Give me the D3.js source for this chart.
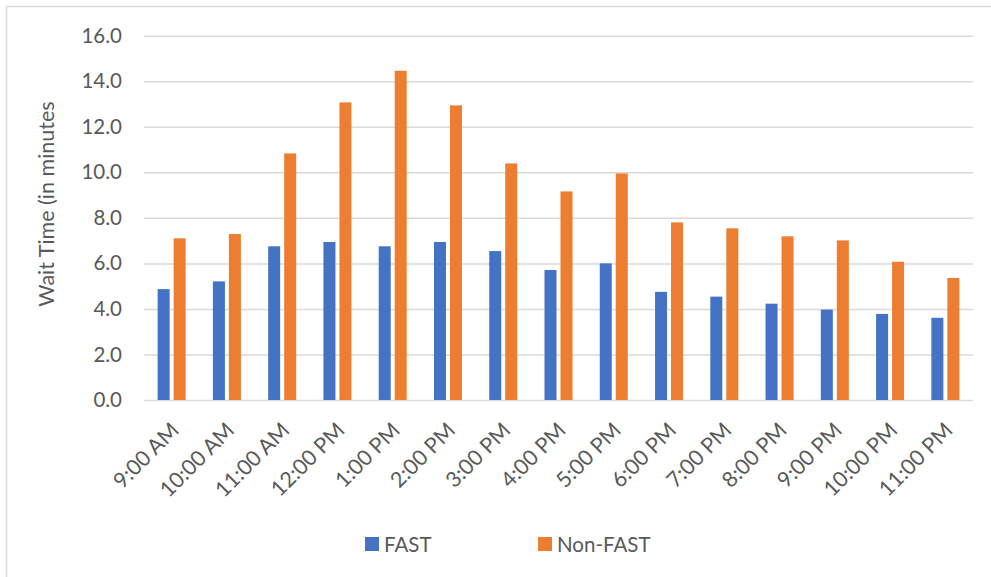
<!DOCTYPE html>
<html>
<head>
<meta charset="utf-8">
<script src="https://cdn.jsdelivr.net/npm/d3@7"></script>
<style>
  html, body { margin: 0; padding: 0; background: #fff; }
  svg { display: block; }
  text { font-family: Lato, "Open Sans", sans-serif; fill: #595959; }
</style>
</head>
<body>
<svg id="chart" width="991" height="577"></svg>
<script>
// Average wait time by hour of day
const hours = ["9:00 AM", "10:00 AM", "11:00 AM", "12:00 PM", "1:00 PM", "2:00 PM", "3:00 PM",
  "4:00 PM", "5:00 PM", "6:00 PM", "7:00 PM", "8:00 PM", "9:00 PM", "10:00 PM", "11:00 PM"];
const fastWait = [4.87, 5.21, 6.75, 6.94, 6.75, 6.94, 6.54, 5.71, 6.00, 4.75, 4.54, 4.23, 3.97, 3.78, 3.61];
const nonFastWait = [7.10, 7.29, 10.83, 13.07, 14.46, 12.94, 10.39, 9.16, 9.95, 7.80, 7.54, 7.19, 7.01, 6.07, 5.36];
const yTicks = [0, 2, 4, 6, 8, 10, 12, 14, 16];
const seriesNames = ["FAST", "Non-FAST"];
const seriesColors = ["#4472c4", "#ed7d31"];

const svg = d3.select("#chart");

// chart area frame
svg.append("rect")
  .attr("x", 6.5).attr("y", 6.5)
  .attr("width", 1000).attr("height", 600)
  .attr("fill", "none").attr("stroke", "#d9d9d9").attr("stroke-width", 1.5);

const plot = { left: 144, right: 973, top: 35.7, bottom: 400 };

const x = d3.scaleBand().domain(hours).range([plot.left, plot.right]).paddingInner(0).paddingOuter(0);
const y = d3.scaleLinear().domain([0, 16]).range([plot.bottom, plot.top]);

// horizontal gridlines with value labels
const yAxis = d3.axisLeft(y).tickValues(yTicks).tickFormat(d3.format(".1f"))
  .tickSize(-(plot.right - plot.left)).tickPadding(22);
const gy = svg.append("g").attr("transform", `translate(${plot.left},0)`).call(yAxis);
gy.select(".domain").remove();
gy.selectAll(".tick line").attr("stroke", "#d9d9d9").attr("stroke-width", 1.5);
gy.selectAll(".tick text").attr("font-size", 20.5).attr("fill", "#595959")
  .style("font-family", "Lato, sans-serif");

// bars
const barW = 12, gap = 4;
const series = [fastWait, nonFastWait];
series.forEach((vals, si) => {
  svg.append("g").selectAll("rect").data(vals).join("rect")
    .attr("x", (d, i) => x(hours[i]) + x.bandwidth() / 2 - barW - gap / 2 + si * (barW + gap))
    .attr("y", d => y(d))
    .attr("width", barW)
    .attr("height", d => y(0) - y(d))
    .attr("fill", seriesColors[si]);
});

// category labels, rotated
svg.append("g").selectAll("text").data(hours).join("text")
  .attr("transform", d => `translate(${x(d) + x.bandwidth() / 2 - 2},${plot.bottom + 21}) rotate(-45)`)
  .attr("text-anchor", "end")
  .attr("dy", "0.7em")
  .attr("font-size", 21.5)
  .text(d => d);

// axis title
svg.append("text")
  .attr("transform", `translate(54,204) rotate(-90)`)
  .attr("text-anchor", "middle")
  .attr("font-size", 21.5)
  .text("Wait Time (in minutes");

// legend
const legendX = [365, 538];
const lg = svg.append("g").selectAll("g").data(seriesNames).join("g")
  .attr("transform", (d, i) => `translate(${legendX[i]},537)`);
lg.append("rect").attr("width", 14).attr("height", 14).attr("fill", (d, i) => seriesColors[i]);
lg.append("text").attr("x", 19).attr("y", 14.5).attr("font-size", 20.5).text(d => d);
</script>
</body>
</html>
